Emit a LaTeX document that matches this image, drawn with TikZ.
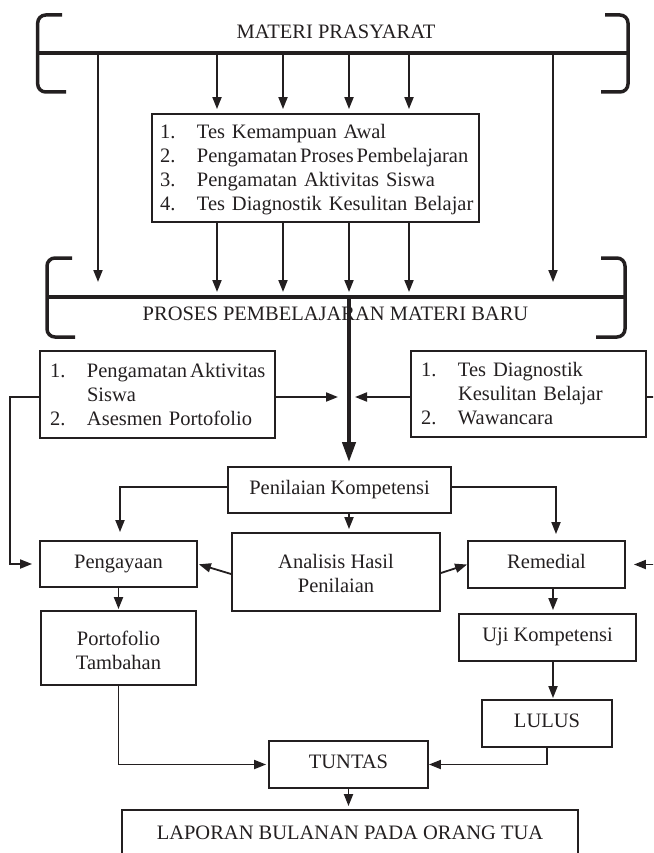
\documentclass[tikz,border=0pt]{standalone}
\usepackage{fontspec}
\setmainfont{Liberation Serif}
\usetikzlibrary{arrows.meta,calc}
\definecolor{ink}{RGB}{35,31,32}
\newcommand{\itm}[2]{\mbox{\makebox[37pt][l]{#1}#2}}
\begin{document}
\begin{tikzpicture}[x=1pt,y=-1pt,
  every node/.style={font=\fontsize{20.5}{24}\selectfont, text=ink},
  box/.style={draw=ink, line width=1.8pt, inner sep=0pt, text height=13pt, text depth=5pt, align=center},
  mbox/.style={draw=ink, line width=1.8pt, inner sep=0pt, align=center},
  lbox/.style={draw=ink, line width=1.8pt, inner ysep=0pt, align=left},
  brk/.style={draw=ink, line width=3.5pt, rounded corners=8pt},
  arr/.style={draw=ink, line width=1.8pt, -{Triangle[length=12pt,width=9pt]}},
  bigarr/.style={draw=ink, line width=4pt, -{Triangle[length=20pt,width=13pt]}, shorten >=4pt},
  lbl/.style={anchor=base, inner sep=0pt}
]
\useasboundingbox (0,0) rectangle (653,853);
\clip (0,0) rectangle (653,853);

% ---- top bracket: MATERI PRASYARAT
\draw[brk] (62,15) -- (37.7,15) -- (37.7,92) -- (66,92);
\draw[brk] (605,15) -- (628,15) -- (628,92) -- (601,92);
\draw[brk] (37.7,53) -- (628,53);
\node[lbl] (materi) at (336,39) {MATERI PRASYARAT};

% ---- lower bracket: PROSES PEMBELAJARAN MATERI BARU
\draw[brk] (72,258) -- (47,258) -- (47,337) -- (75,337);
\draw[brk] (601,258) -- (625,258) -- (625,337) -- (596,337);
\draw[brk] (47,297) -- (625,297);
\node[lbl] (proses) at (335.5,320) {PROSES PEMBELAJARAN MATERI BARU};

% ---- coordinates on the bracket lines
\coordinate (t1) at (98,53);   \coordinate (b1) at (98,297);
\coordinate (t2) at (217,53);  \coordinate (b2) at (217,297);
\coordinate (t3) at (283,53);  \coordinate (b3) at (283,297);
\coordinate (t4) at (349,53);  \coordinate (b4) at (349,297);
\coordinate (t5) at (409,53);  \coordinate (b5) at (409,297);
\coordinate (t6) at (553,53);  \coordinate (b6) at (553,297);
\coordinate (jl) at (338,397); \coordinate (jr) at (355,397);
\coordinate (lx) at (10,397);  \coordinate (rx) at (662,397);
\coordinate (ux) at (553,600);

% ---- boxes
\node[lbox, inner xsep=8pt, minimum width=327pt, minimum height=108pt, text width=311pt] (list) at (315.5,168)
 {\rule{0pt}{17pt}\itm{1.}{Tes Kemampuan Awal}\\
  \itm{2.}{Pengamatan\hspace{3pt}Proses\hspace{3pt}Pembelajaran}\\
  \itm{3.}{Pengamatan Aktivitas Siswa}\\
  \itm{4.}{Tes Diagnostik Kesulitan Belajar}};

\node[lbox, inner xsep=10pt, minimum width=235pt, minimum height=87pt, text width=215pt] (leftbox) at (157.5,394.5)
 {\itm{1.}{Pengamatan\hspace{3pt}Aktivitas}\\
  \itm{}{Siswa}\\
  \itm{2.}{Asesmen Portofolio}};

\node[lbox, inner xsep=10pt, minimum width=235pt, minimum height=86pt, text width=215pt] (rightbox) at (528.5,394)
 {\itm{1.}{Tes Diagnostik}\\
  \itm{}{Kesulitan Belajar}\\
  \itm{2.}{Wawancara}};

\node[box, minimum width=223pt, minimum height=46pt] (penilaian) at (339.5,490) {Penilaian Kompetensi};
\node[box, minimum width=157pt, minimum height=46pt] (pengayaan) at (118.5,564) {Pengayaan};
\node[mbox, minimum width=208pt, minimum height=78pt] (analisis) at (336,572) {\rule{0pt}{17pt}Analisis Hasil\\Penilaian};
\node[box, minimum width=157pt, minimum height=47pt] (remedial) at (546.5,564.5) {Remedial};
\node[mbox, minimum width=155pt, minimum height=74pt] (portofolio) at (118.5,648) {\rule{0pt}{20pt}Portofolio\\Tambahan};
\node[box, minimum width=177pt, minimum height=47pt] (uji) at (547.5,637.5) {Uji Kompetensi};
\node[box, minimum width=130pt, minimum height=47pt] (lulus) at (547,723.5) {LULUS};
\node[box, minimum width=159pt, minimum height=47pt] (tuntas) at (348.5,764.5) {TUNTAS};
\node[box, minimum width=456pt, minimum height=50pt] (laporan) at (350,835) {LAPORAN BULANAN PADA ORANG TUA};

% ---- arrows from MATERI PRASYARAT
\draw[arr, shorten >=15pt] (t1) -- (b1);
\draw[arr, shorten >=15pt] (t6) -- (b6);
\draw[arr, shorten >=4pt] (t2) -- (list.north -| t2);
\draw[arr, shorten >=4pt] (t3) -- (list.north -| t3);
\draw[arr, shorten >=4pt] (t4) -- (list.north -| t4);
\draw[arr, shorten >=4pt] (t5) -- (list.north -| t5);

% ---- arrows from the list into PROSES
\draw[arr, shorten >=5pt] (list.south -| b2) -- (b2);
\draw[arr, shorten >=5pt] (list.south -| b3) -- (b3);
\draw[arr, shorten >=5pt] (list.south -| b4) -- (b4);
\draw[arr, shorten >=5pt] (list.south -| b5) -- (b5);

% ---- main flow
\draw[bigarr] (b4) -- (penilaian.north -| b4);
\draw[arr] (leftbox.east |- jl) -- (jl);
\draw[arr] (rightbox.west |- jr) -- (jr);
\draw[arr, shorten >=7pt] (leftbox.west |- lx) -- (lx) |- (pengayaan.west);
\draw[arr, shorten >=8pt] (rightbox.east |- rx) -- (rx) |- (remedial.east);

\draw[arr, shorten >=8pt] ([yshift=3pt]penilaian.west) -| ([xshift=1.5pt]pengayaan.north);
\draw[arr, shorten >=6pt] ([yshift=3pt]penilaian.east) -| ([xshift=9.5pt]remedial.north);
\draw[arr, shorten >=3pt] (penilaian.south -| b4) -- (analisis.north -| b4);
\draw[arr, shorten >=1pt] ([yshift=-2pt]analisis.west) -- (pengayaan.east);
\draw[arr] ([yshift=-1pt]analisis.east) -- (remedial.west);

\draw[arr, shorten >=1pt] (pengayaan.south) -- (portofolio.north);
\draw[arr, shorten >=2pt] (portofolio.south) |- (tuntas.west);
\draw[arr, shorten >=3pt] (remedial.south -| ux) -- (uji.north -| ux);
\draw[arr, shorten >=1pt] (uji.south -| ux) -- (lulus.north -| ux);
\draw[arr] (lulus.south) |- (tuntas.east);
\draw[arr, shorten >=3pt] (tuntas.south) -- (laporan.north -| tuntas.south);
\end{tikzpicture}
\end{document}
